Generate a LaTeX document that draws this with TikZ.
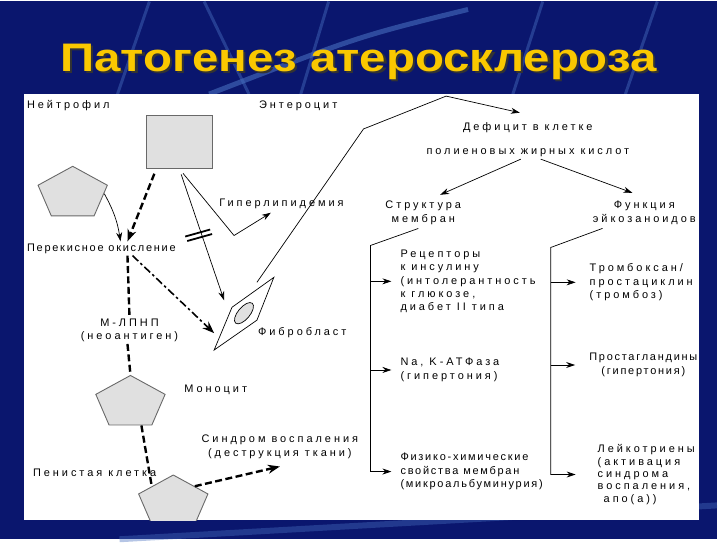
\documentclass[tikz,border=0pt]{standalone}
\usepackage{fontspec}
\usepackage{graphicx}
\setmainfont{Liberation Sans}
\newfontfamily\spfont[LetterSpace=27]{Liberation Sans}
\newfontfamily\plfont[LetterSpace=16]{Liberation Sans}
\usetikzlibrary{arrows.meta,shapes.geometric,positioning}

\definecolor{slidebg}{RGB}{10,22,110}
\definecolor{streak}{RGB}{70,110,190}
\definecolor{titlegold}{RGB}{250,200,0}
\definecolor{cellgray}{RGB}{224,224,224}
\definecolor{celledge}{RGB}{105,105,105}

\tikzset{
  cell/.style={regular polygon, regular polygon sides=5, draw=celledge, fill=cellgray,
    line width=0.9pt, minimum size=55pt, inner sep=0pt, xscale=1.33, transform shape},
  lbl/.style={inner sep=2pt, font=\fontsize{11}{13.5}\spfont},
  plbl/.style={inner sep=2pt, font=\fontsize{11}{13.5}\plfont},
  fineline/.style={line width=0.7pt, draw=black},
  dashline/.style={line width=2.4pt, dash pattern=on 7pt off 3.5pt,
    -{Stealth[length=12pt,width=9pt]}},
  dashdotline/.style={line width=1.6pt, dash pattern=on 8pt off 3pt on 2.5pt off 3pt,
    -{Stealth[length=12pt,width=9pt]}},
}

\begin{document}
\begin{tikzpicture}[x=1pt, y=-1pt, >={Stealth[length=9pt,width=6pt]}]
    % slide background
    \fill[slidebg] (0,0) rectangle (720,540);
    \draw[streak, line width=3pt, opacity=.45] (150,0) -- (118,93);
    \draw[streak, line width=3pt, opacity=.45] (205,0) -- (250,93);
    \draw[streak, line width=3pt, opacity=.45] (330,0) -- (302,93);
    \draw[streak, line width=5pt, opacity=.6] (470,8) .. controls (360,35) .. (210,93);
    \draw[streak, line width=3pt, opacity=.45] (545,0) -- (515,93);
    \draw[streak, line width=3pt, opacity=.45] (660,0) -- (628,93);
    \draw[streak, line width=6pt, opacity=.4] (120,540) -- (720,506);

    % title
    \node (title) at (360,62) {\scalebox{1.19}[1]{\fontsize{40}{40}\selectfont\bfseries
      \rlap{\kern2pt\raisebox{-2pt}{\color{black!80}Патогенез атеросклероза}}%
      \color{titlegold}Патогенез атеросклероза}};

    % white panel
    \fill[white] (24,93) rectangle (702,521);
    \begin{scope}
    \clip (24,93) rectangle (702,521);

    % cells
    \node[cell] (neutro) at (73,193) {};
    \node[cell] (mono) at (131,403) {};
    \node[cell] (foam) at (174,503) {};
    \node[draw=celledge, fill=cellgray, line width=0.9pt, minimum width=66pt,
      minimum height=53pt, inner sep=0pt] (entero) at (180,141) {};

    % fibroblast
    \draw[fineline] (215,350) -- (233,307) -- (275,277) -- (258,320) -- cycle;
    \draw[fineline, fill=cellgray, rotate around={50:(245,313)}] (245,313) ellipse (13 and 6);
    \coordinate (fbtop) at (225,300);
    \coordinate (fbleft) at (215,333);
    \coordinate (fbtail) at (258,282);

    % labels, left part
    \node[lbl, anchor=west] (neutroLbl) at (25,105) {Нейтрофил};
    \node[lbl, anchor=west] (enteroLbl) at (258,105) {Энтероцит};
    \node[plbl, anchor=west] (perox) at (25,248) {Перекисное окисление};
    \node[lbl, anchor=west] (hyper) at (218,203) {Гиперлипидемия};
    \node[lbl, align=center] (mldl) at (130,330) {М-ЛПНП\\(неоантиген)};
    \node[lbl, anchor=west] (fibroLbl) at (257,332) {Фибробласт};
    \node[lbl, anchor=west] (monoLbl) at (183,390) {Моноцит};
    \node[lbl, anchor=west] (foamLbl) at (31,473) {Пенистая клетка};
    \node[lbl, align=center] (inflam) at (281,447) {Синдром воспаления\\(деструкция ткани)};

    % labels, right part
    \node[lbl] (deficit) at (530,127) {Дефицит в клетке};
    \node[lbl] (pufa) at (530,152) {полиеновых жирных кислот};
    \node[lbl, align=center] (struct) at (425,212) {Структура\\мембран};
    \node[lbl, align=center] (eico) at (647,212) {Функция\\эйкозаноидов};
    \node[lbl, anchor=west, align=left] (recep) at (400,281)
      {Рецепторы\\к инсулину\\(интолерантность\\к глюкозе,\\диабет II типа};
    \node[lbl, anchor=west, align=left] (natpase) at (400,370) {Na, K-АТФаза\\(гипертония)};
    \node[plbl, anchor=west, align=left] (physchem) at (400,472)
      {Физико-химические\\свойства мембран\\(микроальбуминурия)};
    \node[lbl, anchor=west, align=left] (thromb) at (590,282) {Тромбоксан/\\простациклин\\(тромбоз)};
    \node[plbl, align=center] (prost) at (646,365) {Простагландины\\(гипертония)};
    \node[lbl, anchor=west, align=left, font=\fontsize{11}{12.5}\spfont] (leuk) at (598,475)
      {Лейкотриены\\(активация\\синдрома\\воспаления,\\\ апо(а))};

    % bends
    \coordinate (hbend) at (235,235);
    \coordinate (dt1) at (365,128);
    \coordinate (dt2) at (448,95);
    \coordinate (lbr) at (372,245);
    \coordinate (rbr) at (553,247);

    % connectors, left part
    \draw[fineline, ->] (neutro.east) to[bend left=10] ([xshift=96pt]perox.north west);
    \draw[dashline] ([xshift=-25pt,yshift=-5pt]entero.south) -- ([xshift=103pt]perox.north west);
    \draw[fineline, ->, shorten <=6pt] (entero.south) -- (hbend) -- ([xshift=54pt,yshift=-2pt]hyper.south west);
    \draw[fineline, ->, shorten <=6pt] (entero.south) -- (fbtop);
    \draw[line width=1.8pt] (186,236) -- (211,229);
    \draw[line width=1.8pt] (188,240.5) -- (213,233.5);
    \draw[fineline, ->] (fbtail) -- (dt1) -- (dt2) -- ([xshift=-8pt,yshift=8pt]deficit.north);
    \draw[dashdotline] ([xshift=108pt]perox.south west) -- (fbleft);
    \draw[dashline, -] ([xshift=103pt]perox.south west) -- (mldl.north);
    \draw[dashline, -] ([xshift=-2pt]mldl.south) -- (mono.north);
    \draw[dashline, -] ([xshift=11pt]mono.south) -- (foam.north west);
    \draw[dashline] (foam.north east) -- ([yshift=-6pt]inflam.south);

    % connectors, right part
    \draw[fineline, ->] ([xshift=-7pt]pufa.south) -- ([xshift=17pt,yshift=4pt]struct.north);
    \draw[fineline, ->] ([xshift=13pt]pufa.south) -- ([xshift=-12pt,yshift=6pt]eico.north);
    \draw[fineline, ->, shorten >=7pt] ([xshift=-5pt,yshift=-2pt]struct.south) -- (lbr) |- (physchem.west);
    \draw[fineline, ->, shorten >=7pt] (lbr |- recep.west) -- (recep.west);
    \draw[fineline, ->, shorten >=7pt] (lbr |- natpase.west) -- (natpase.west);
    \draw[fineline, ->, shorten >=20pt] ([xshift=-42pt,yshift=-2pt]eico.south) -- (rbr) |- (leuk.west);
    \draw[fineline, ->, shorten >=12pt] (rbr |- thromb.west) -- (thromb.west);
    \draw[fineline, ->, shorten >=12pt] (rbr |- prost.west) -- (prost.west);
    \end{scope}
\end{tikzpicture}
\end{document}
